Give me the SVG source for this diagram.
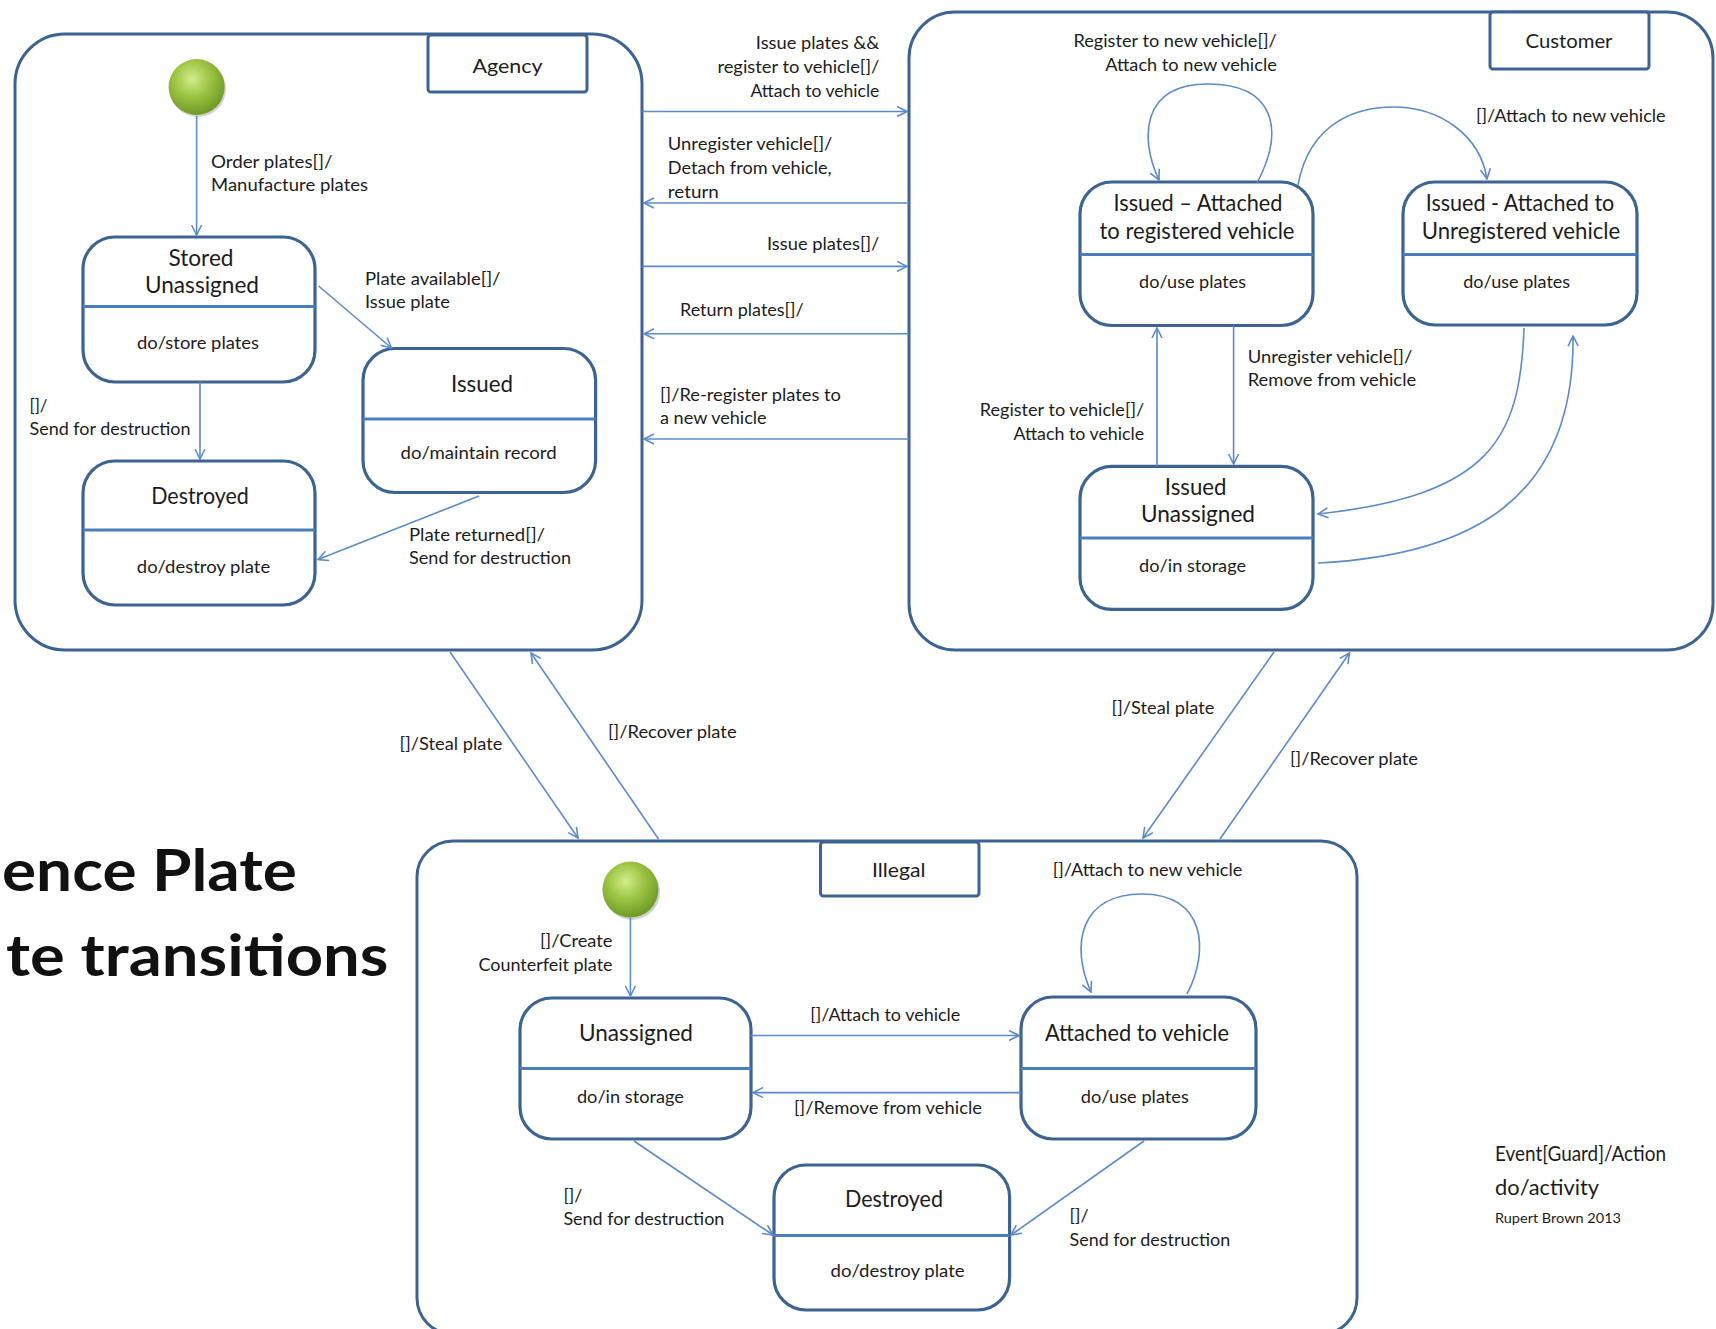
<svg xmlns="http://www.w3.org/2000/svg" width="1716" height="1329" viewBox="0 0 1716 1329">
<defs>
<style>
.cont{fill:none;stroke:#3D6391;stroke-width:3}
.state{fill:#fff;stroke:#3D6391;stroke-width:3.2}
.div{stroke:#4A7EBB;stroke-width:3}
.lbox{fill:#fff;stroke:#3D6391;stroke-width:3}
.edge{fill:none;stroke:#5B8BC8;stroke-width:1.6}
text{font-family:Lato,"Liberation Sans",sans-serif;fill:#1c1c1c}
.s{font-size:18px}
.h{font-size:23px}
.b{font-size:20px}
.m{text-anchor:middle}
.e{text-anchor:end}
.big{font-size:58px;font-weight:bold;fill:#111}
.leg{font-size:21px}
</style>
<marker id="arr" viewBox="0 0 12 12" refX="11" refY="6" markerWidth="12" markerHeight="12" markerUnits="userSpaceOnUse" orient="auto">
<path d="M1,1 L11,6 L1,11" fill="none" stroke="#5B8BC8" stroke-width="1.6"/>
</marker>
<radialGradient id="green" cx="0.42" cy="0.35" r="0.65">
<stop offset="0" stop-color="#D2EC8C"/>
<stop offset="0.5" stop-color="#9CC443"/>
<stop offset="1" stop-color="#6E9A27"/>
</radialGradient>
</defs>
<rect width="1716" height="1329" fill="#fff"/>

<!-- containers -->
<g id="agency">
<rect class="cont" x="15" y="34" width="627" height="616" rx="50"/>
<rect class="lbox" x="428" y="35" width="159" height="57" rx="3"/>
<text class="b m" x="507.5" y="73" textLength="70" lengthAdjust="spacingAndGlyphs">Agency</text>
</g>
<g id="customer">
<rect class="cont" x="909" y="12" width="804" height="638" rx="46"/>
<rect class="lbox" x="1490" y="12" width="159" height="57" rx="3"/>
<text class="b m" x="1569" y="48" textLength="87" lengthAdjust="spacingAndGlyphs">Customer</text>
</g>
<g id="illegal">
<rect class="cont" x="417" y="841" width="940" height="493" rx="36"/>
<rect class="lbox" x="820.5" y="842" width="158.5" height="54" rx="3"/>
<text class="b m" x="898.7" y="876.5" textLength="53.5" lengthAdjust="spacingAndGlyphs">Illegal</text>
</g>

<!-- initial states -->
<g id="agency-initial">
<circle cx="198" cy="89" r="28" fill="#000" opacity="0.18"/>
<circle cx="196.6" cy="87" r="28" fill="url(#green)"/>
</g>
<g id="illegal-initial">
<circle cx="632" cy="892" r="28" fill="#000" opacity="0.18"/>
<circle cx="630.4" cy="889.6" r="28" fill="url(#green)"/>
</g>

<!-- Agency states -->
<g id="agency-stored">
<rect class="state" x="83" y="237" width="232" height="145" rx="32"/>
<line class="div" x1="83" y1="306.5" x2="315" y2="306.5"/>
<text class="h m" x="201" y="265.6" textLength="65" lengthAdjust="spacingAndGlyphs">Stored</text>
<text class="h m" x="202" y="293" textLength="114" lengthAdjust="spacingAndGlyphs">Unassigned</text>
<text class="s m" x="198" y="349.3" textLength="122" lengthAdjust="spacingAndGlyphs">do/store plates</text>
</g>
<g id="agency-destroyed">
<rect class="state" x="83" y="461" width="232" height="144" rx="32"/>
<line class="div" x1="83" y1="530" x2="315" y2="530"/>
<text class="h m" x="200" y="504" textLength="97.6" lengthAdjust="spacingAndGlyphs">Destroyed</text>
<text class="s m" x="203.5" y="573.3" textLength="133.4" lengthAdjust="spacingAndGlyphs">do/destroy plate</text>
</g>
<g id="agency-issued">
<rect class="state" x="363" y="348.5" width="232.6" height="144" rx="32"/>
<line class="div" x1="363" y1="419" x2="595.6" y2="419"/>
<text class="h m" x="482" y="392" textLength="62" lengthAdjust="spacingAndGlyphs">Issued</text>
<text class="s m" x="478.6" y="458.8" textLength="156" lengthAdjust="spacingAndGlyphs">do/maintain record</text>
</g>

<!-- Customer states -->
<g id="customer-attached-registered">
<rect class="state" x="1080" y="182" width="233" height="143.5" rx="32"/>
<line class="div" x1="1080" y1="254.6" x2="1313" y2="254.6"/>
<text class="h m" x="1198" y="211" textLength="169" lengthAdjust="spacingAndGlyphs">Issued – Attached</text>
<text class="h m" x="1197" y="238.7" textLength="195" lengthAdjust="spacingAndGlyphs">to registered vehicle</text>
<text class="s m" x="1192.6" y="288.3" textLength="107" lengthAdjust="spacingAndGlyphs">do/use plates</text>
</g>
<g id="customer-attached-unregistered">
<rect class="state" x="1403" y="182" width="234" height="143" rx="32"/>
<line class="div" x1="1403" y1="254.6" x2="1637" y2="254.6"/>
<text class="h m" x="1520" y="211" textLength="188.6" lengthAdjust="spacingAndGlyphs">Issued - Attached to</text>
<text class="h m" x="1521" y="238.7" textLength="198.5" lengthAdjust="spacingAndGlyphs">Unregistered vehicle</text>
<text class="s m" x="1516.7" y="288.3" textLength="107" lengthAdjust="spacingAndGlyphs">do/use plates</text>
</g>
<g id="customer-issued-unassigned">
<rect class="state" x="1080" y="466.4" width="233" height="143" rx="32"/>
<line class="div" x1="1080" y1="538" x2="1313" y2="538"/>
<text class="h m" x="1195.6" y="495" textLength="61.7" lengthAdjust="spacingAndGlyphs">Issued</text>
<text class="h m" x="1198" y="522" textLength="114" lengthAdjust="spacingAndGlyphs">Unassigned</text>
<text class="s m" x="1192.6" y="572.3" textLength="107" lengthAdjust="spacingAndGlyphs">do/in storage</text>
</g>

<!-- Illegal states -->
<g id="illegal-unassigned">
<rect class="state" x="520" y="998" width="231" height="141" rx="32"/>
<line class="div" x1="520" y1="1068.4" x2="751" y2="1068.4"/>
<text class="h m" x="636" y="1041" textLength="114" lengthAdjust="spacingAndGlyphs">Unassigned</text>
<text class="s m" x="630.4" y="1103.3" textLength="107" lengthAdjust="spacingAndGlyphs">do/in storage</text>
</g>
<g id="illegal-attached">
<rect class="state" x="1021" y="997" width="235" height="142" rx="32"/>
<line class="div" x1="1021" y1="1068.4" x2="1256" y2="1068.4"/>
<text class="h m" x="1137" y="1041" textLength="184" lengthAdjust="spacingAndGlyphs">Attached to vehicle</text>
<text class="s m" x="1134.8" y="1103.3" textLength="108" lengthAdjust="spacingAndGlyphs">do/use plates</text>
</g>
<g id="illegal-destroyed">
<rect class="state" x="774" y="1165" width="235.6" height="145" rx="32"/>
<line class="div" x1="774" y1="1235.4" x2="1009.6" y2="1235.4"/>
<text class="h m" x="894" y="1207.4" textLength="98" lengthAdjust="spacingAndGlyphs">Destroyed</text>
<text class="s m" x="897.6" y="1276.8" textLength="134" lengthAdjust="spacingAndGlyphs">do/destroy plate</text>
</g>

<!-- connectors -->
<g id="connectors">
<line class="edge" x1="196.6" y1="116" x2="196.6" y2="235" marker-end="url(#arr)"/>
<line class="edge" x1="200" y1="382" x2="200" y2="459" marker-end="url(#arr)"/>
<line class="edge" x1="318.6" y1="286" x2="391.5" y2="348" marker-end="url(#arr)"/>
<line class="edge" x1="479" y1="496" x2="318" y2="559.5" marker-end="url(#arr)"/>

<line class="edge" x1="642" y1="111.5" x2="907" y2="111.5" marker-end="url(#arr)"/>
<line class="edge" x1="909" y1="203" x2="644" y2="203" marker-end="url(#arr)"/>
<line class="edge" x1="642" y1="266.4" x2="907" y2="266.4" marker-end="url(#arr)"/>
<line class="edge" x1="909" y1="333.8" x2="644" y2="333.8" marker-end="url(#arr)"/>
<line class="edge" x1="909" y1="439" x2="644" y2="439" marker-end="url(#arr)"/>

<path class="edge" d="M1257,183 C1285,130 1275,84 1208,84 C1140,84 1140,140 1159,180" marker-end="url(#arr)"/>
<path class="edge" d="M1298,185 C1310,120 1360,107 1393,107 C1440,107 1480,135 1487,179" marker-end="url(#arr)"/>
<line class="edge" x1="1157" y1="466" x2="1157" y2="328" marker-end="url(#arr)"/>
<line class="edge" x1="1233.6" y1="325.5" x2="1233.6" y2="464" marker-end="url(#arr)"/>
<path class="edge" d="M1524,328 C1520,440 1490,495 1318,514" marker-end="url(#arr)"/>
<path class="edge" d="M1318,563 C1470,555 1575,500 1573,336" marker-end="url(#arr)"/>

<line class="edge" x1="450" y1="652" x2="578" y2="838" marker-end="url(#arr)"/>
<line class="edge" x1="658.5" y1="839" x2="531" y2="653" marker-end="url(#arr)"/>
<line class="edge" x1="1274" y1="652" x2="1143" y2="838" marker-end="url(#arr)"/>
<line class="edge" x1="1220" y1="839" x2="1349.5" y2="653" marker-end="url(#arr)"/>

<line class="edge" x1="630.4" y1="918" x2="630.4" y2="996" marker-end="url(#arr)"/>
<line class="edge" x1="751" y1="1035.5" x2="1019" y2="1035.5" marker-end="url(#arr)"/>
<line class="edge" x1="1021" y1="1092.6" x2="753" y2="1092.6" marker-end="url(#arr)"/>
<path class="edge" d="M1187,994 C1210,950 1205,894 1142,894 C1080,894 1070,945 1091,992" marker-end="url(#arr)"/>
<line class="edge" x1="634" y1="1141" x2="773" y2="1235" marker-end="url(#arr)"/>
<line class="edge" x1="1144" y1="1141" x2="1011" y2="1235" marker-end="url(#arr)"/>
</g>

<!-- connector labels -->
<g id="labels">
<text class="s" x="211" y="168.3" textLength="121.5" lengthAdjust="spacingAndGlyphs">Order plates[]/</text>
<text class="s" x="211" y="191.3" textLength="157" lengthAdjust="spacingAndGlyphs">Manufacture plates</text>
<text class="s" x="365" y="284.9" textLength="135.5" lengthAdjust="spacingAndGlyphs">Plate available[]/</text>
<text class="s" x="365" y="308.3" textLength="85" lengthAdjust="spacingAndGlyphs">Issue plate</text>
<text class="s" x="29.5" y="412.3" textLength="18" lengthAdjust="spacingAndGlyphs">[]/</text>
<text class="s" x="29.5" y="435.3" textLength="161" lengthAdjust="spacingAndGlyphs">Send for destruction</text>
<text class="s" x="409" y="540.9" textLength="136" lengthAdjust="spacingAndGlyphs">Plate returned[]/</text>
<text class="s" x="409" y="564" textLength="162" lengthAdjust="spacingAndGlyphs">Send for destruction</text>

<text class="s e" x="879.4" y="49.3" textLength="123.6" lengthAdjust="spacingAndGlyphs">Issue plates &amp;&amp;</text>
<text class="s e" x="879.4" y="73.3" textLength="162" lengthAdjust="spacingAndGlyphs">register to vehicle[]/</text>
<text class="s e" x="879.4" y="97.3" textLength="129" lengthAdjust="spacingAndGlyphs">Attach to vehicle</text>
<text class="s" x="667.8" y="150.3" textLength="164.6" lengthAdjust="spacingAndGlyphs">Unregister vehicle[]/</text>
<text class="s" x="667.8" y="174.3" textLength="163.8" lengthAdjust="spacingAndGlyphs">Detach from vehicle,</text>
<text class="s" x="667.8" y="198.3" textLength="51" lengthAdjust="spacingAndGlyphs">return</text>
<text class="s e" x="879.4" y="250.3" textLength="112.4" lengthAdjust="spacingAndGlyphs">Issue plates[]/</text>
<text class="s" x="680" y="316.3" textLength="123.7" lengthAdjust="spacingAndGlyphs">Return plates[]/</text>
<text class="s" x="660" y="400.7" textLength="181" lengthAdjust="spacingAndGlyphs">[]/Re-register plates to</text>
<text class="s" x="660" y="424.3" textLength="106.6" lengthAdjust="spacingAndGlyphs">a new vehicle</text>

<text class="s e" x="1276.8" y="47.3" textLength="203.4" lengthAdjust="spacingAndGlyphs">Register to new vehicle[]/</text>
<text class="s e" x="1276.8" y="71.3" textLength="171.6" lengthAdjust="spacingAndGlyphs">Attach to new vehicle</text>
<text class="s" x="1476" y="122" textLength="189.7" lengthAdjust="spacingAndGlyphs">[]/Attach to new vehicle</text>
<text class="s" x="1247.7" y="362.8" textLength="164.6" lengthAdjust="spacingAndGlyphs">Unregister vehicle[]/</text>
<text class="s" x="1247.7" y="386.3" textLength="168.5" lengthAdjust="spacingAndGlyphs">Remove from vehicle</text>
<text class="s e" x="1144.2" y="416.3" textLength="164.5" lengthAdjust="spacingAndGlyphs">Register to vehicle[]/</text>
<text class="s e" x="1144.2" y="439.8" textLength="130.8" lengthAdjust="spacingAndGlyphs">Attach to vehicle</text>

<text class="s" x="399.6" y="749.6" textLength="102.7" lengthAdjust="spacingAndGlyphs">[]/Steal plate</text>
<text class="s" x="608" y="738.3" textLength="128.6" lengthAdjust="spacingAndGlyphs">[]/Recover plate</text>
<text class="s" x="1111.6" y="714.3" textLength="102.7" lengthAdjust="spacingAndGlyphs">[]/Steal plate</text>
<text class="s" x="1290" y="764.9" textLength="128" lengthAdjust="spacingAndGlyphs">[]/Recover plate</text>

<text class="s e" x="612.5" y="947.3" textLength="72.5" lengthAdjust="spacingAndGlyphs">[]/Create</text>
<text class="s e" x="612.5" y="971.3" textLength="134" lengthAdjust="spacingAndGlyphs">Counterfeit plate</text>
<text class="s m" x="885.3" y="1020.7" textLength="150" lengthAdjust="spacingAndGlyphs">[]/Attach to vehicle</text>
<text class="s m" x="888" y="1114.3" textLength="188" lengthAdjust="spacingAndGlyphs">[]/Remove from vehicle</text>
<text class="s m" x="1147.5" y="875.7" textLength="189.7" lengthAdjust="spacingAndGlyphs">[]/Attach to new vehicle</text>
<text class="s" x="563.4" y="1202.3" textLength="19" lengthAdjust="spacingAndGlyphs">[]/</text>
<text class="s" x="563.4" y="1225.3" textLength="161" lengthAdjust="spacingAndGlyphs">Send for destruction</text>
<text class="s" x="1069.6" y="1221.9" textLength="19" lengthAdjust="spacingAndGlyphs">[]/</text>
<text class="s" x="1069.6" y="1246.3" textLength="160.7" lengthAdjust="spacingAndGlyphs">Send for destruction</text>
</g>

<!-- title and legend -->
<g id="title">
<text class="big" x="2" y="890.5" textLength="295" lengthAdjust="spacingAndGlyphs">ence Plate</text>
<text class="big" x="6" y="976" textLength="382.5" lengthAdjust="spacingAndGlyphs">te transitions</text>
</g>
<g id="legend">
<text class="leg" x="1495" y="1160.5" textLength="171" lengthAdjust="spacingAndGlyphs">Event[Guard]/Action</text>
<text class="leg" x="1495" y="1194.5" textLength="104" lengthAdjust="spacingAndGlyphs">do/activity</text>
<text x="1495" y="1223" font-size="12.5" textLength="126" lengthAdjust="spacingAndGlyphs">Rupert Brown 2013</text>
</g>
</svg>
